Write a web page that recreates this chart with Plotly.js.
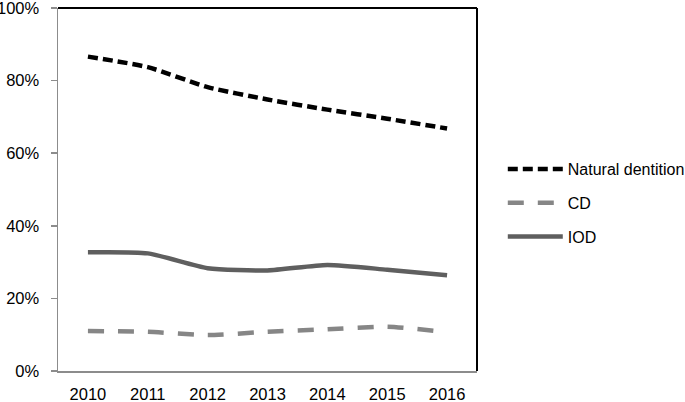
<!DOCTYPE html>
<html>
<head>
<meta charset="utf-8">
<script src="https://cdn.plot.ly/plotly-3.0.1.min.js"></script>
<style>html,body{margin:0;padding:0;background:#fff;}#chart{width:685px;height:402px;}</style>
</head>
<body>
<div id="chart"></div>
<script>
const years = ['2010','2011','2012','2013','2014','2015','2016'];
const naturalDentition = [0.866, 0.837, 0.782, 0.748, 0.720, 0.695, 0.668];
const cd = [0.110, 0.108, 0.099, 0.108, 0.115, 0.122, 0.107];
const iod = [0.327, 0.324, 0.283, 0.277, 0.292, 0.279, 0.264];
const yTicks = [0, 0.2, 0.4, 0.6, 0.8, 1.0];
const yTickText = ['0%','20%','40%','60%','80%','100%'];

const tickFont = {family: 'Liberation Sans, Arial, sans-serif', size: 16.5, color: '#000'};
const legendFont = {family: 'Liberation Sans, Arial, sans-serif', size: 16, color: '#000'};

const traces = [
  {x: years, y: naturalDentition, name: 'Natural dentition', mode: 'lines', legendgroup: 'a',
   line: {color: '#000000', width: 4.5, dash: '10px,5px', shape: 'spline', smoothing: 0.6}},
  {x: years, y: cd, name: 'CD', mode: 'lines', legendgroup: 'b',
   line: {color: '#868686', width: 4.5, dash: '16px,14px', shape: 'spline', smoothing: 0.6}},
  {x: years, y: iod, name: 'IOD', mode: 'lines', legendgroup: 'c',
   line: {color: '#5f5f5f', width: 4.5, shape: 'spline', smoothing: 0.6}}
];

const layout = {
  width: 685, height: 402,
  margin: {l: 58, r: 208, t: 8, b: 31, pad: 0},
  paper_bgcolor: '#fff', plot_bgcolor: '#fff',
  font: legendFont,
  showlegend: true,
  legend: {xref: 'container', yref: 'container', x: 0.734, xanchor: 'left', y: 0.495, yanchor: 'middle',
           font: legendFont, traceorder: 'grouped', tracegroupgap: 10, itemwidth: 55,
           bgcolor: 'rgba(0,0,0,0)'},
  xaxis: {type: 'category', range: [-0.5, 6.5], showgrid: false, zeroline: false,
          showline: true, linecolor: '#8c8c8c', linewidth: 1.5, ticks: '',
          ticklabelstandoff: 8, ticklabeloverflow: 'allow', tickfont: tickFont, fixedrange: true},
  yaxis: {range: [0, 1], tickvals: yTicks, ticktext: yTickText, showgrid: false, zeroline: false,
          showline: true, linecolor: '#8c8c8c', linewidth: 1.5, ticks: 'outside', ticklen: 6,
          tickcolor: '#8c8c8c', tickwidth: 1.5, ticklabelstandoff: 8, ticklabeloverflow: 'allow',
          tickfont: tickFont, fixedrange: true},
  shapes: [
    {type: 'line', xref: 'paper', yref: 'paper', x0: 0, x1: 1, y0: 1, y1: 1, line: {color: '#000', width: 2}},
    {type: 'line', xref: 'paper', yref: 'paper', x0: 1, x1: 1, y0: 0, y1: 1, line: {color: '#000', width: 2}}
  ]
};

Plotly.newPlot('chart', traces, layout, {displayModeBar: false, staticPlot: true});
</script>
</body>
</html>
